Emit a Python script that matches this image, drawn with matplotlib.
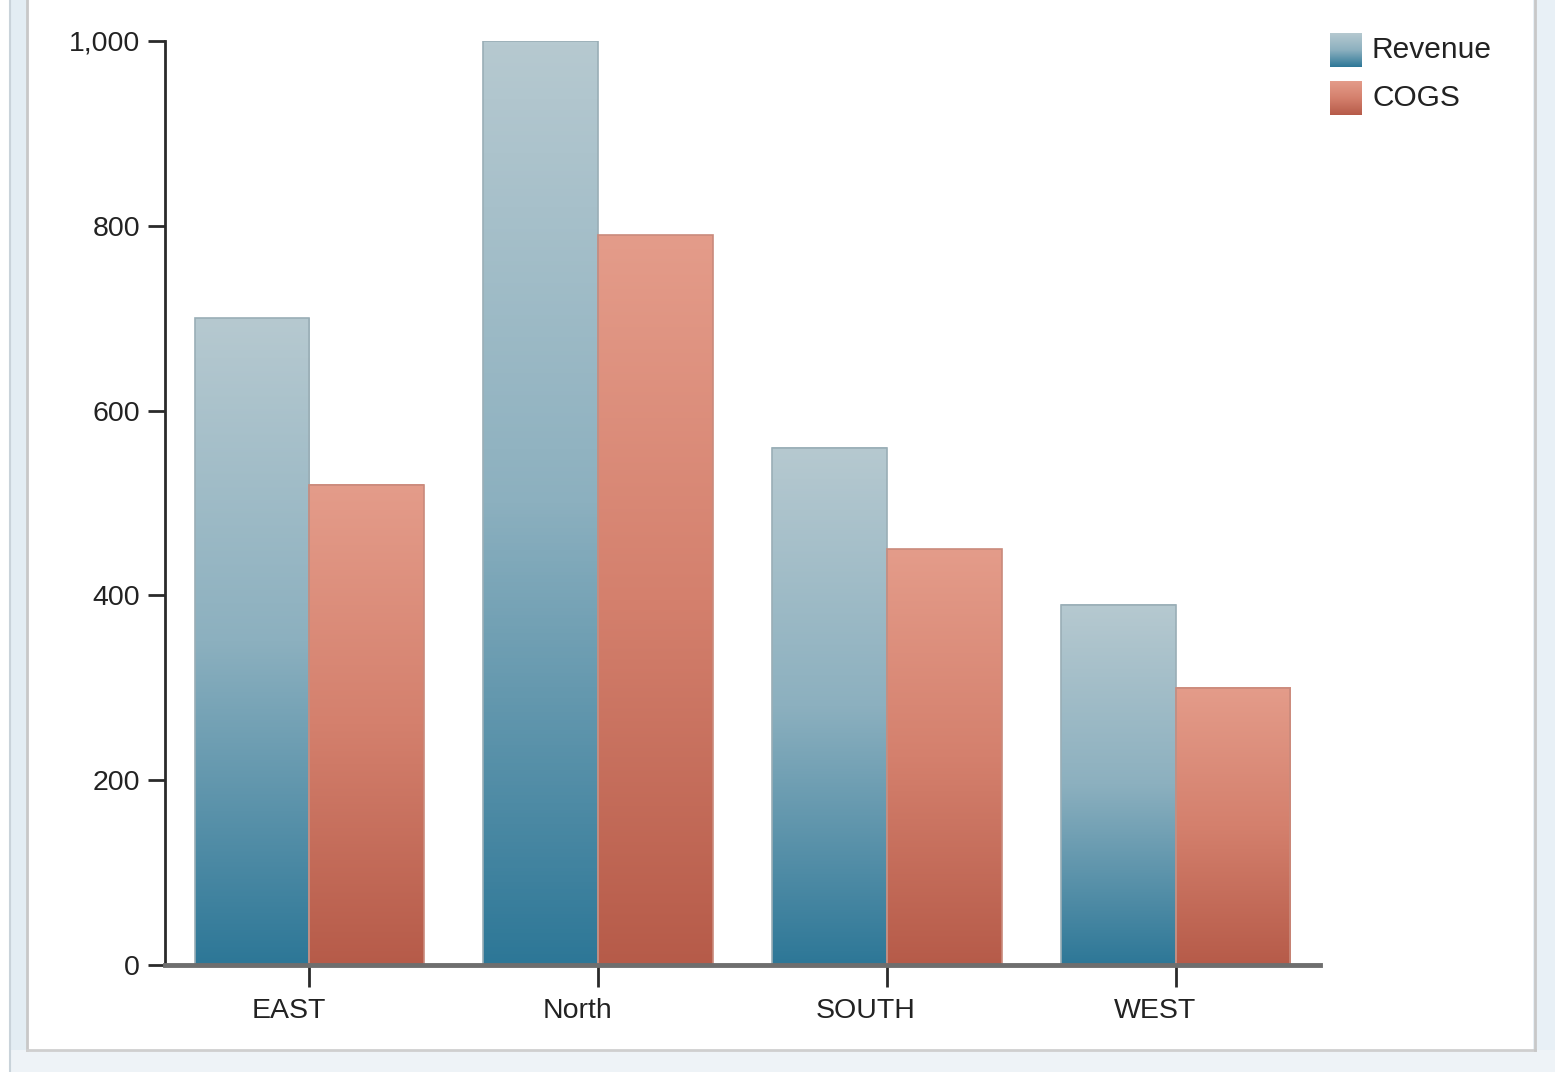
import numpy as np
import matplotlib.pyplot as plt
import matplotlib.transforms as mtransforms
from matplotlib.patches import Rectangle
from matplotlib.colors import LinearSegmentedColormap

regions = ["EAST", "North", "SOUTH", "WEST"]
series = ["Revenue", "COGS"]
revenue = [700, 1000, 560, 390]
cogs = [520, 790, 450, 300]
yticks = [0, 200, 400, 600, 800, 1000]
ytick_labels = ["0", "200", "400", "600", "800", "1,000"]

plt.rcParams['font.family'] = ['Liberation Sans', 'DejaVu Sans']

# gradient colours, top -> bottom
grad = {
    "Revenue": ["#b6c9d0", "#8cb0bf", "#2d7797"],
    "COGS": ["#e49c8a", "#d4806d", "#b65b49"],
}
edge = {"Revenue": "#9aaeb6", "COGS": "#c98a7c"}

fig = plt.figure(figsize=(15.57, 10.72), dpi=100)
fig.patch.set_facecolor("white")

# panel frame (screenshot window border)
W, H = 1557, 1072
def fx(px):
    return px / W
def fy(py):
    return 1 - py / H
fig.patches.append(Rectangle((fx(9), 0), fx(19), 1, transform=fig.transFigure,
                             facecolor="#e3edf3", edgecolor="none", zorder=0))
fig.patches.append(Rectangle((fx(1533), 0), fx(22), 1, transform=fig.transFigure,
                             facecolor="#e8f0f6", edgecolor="none", zorder=0))
fig.patches.append(Rectangle((fx(9), 0), fx(1546), fy(1050), transform=fig.transFigure,
                             facecolor="#eef3f7", edgecolor="none", zorder=0))
fig.lines.append(plt.Line2D([fx(27), fx(27)], [fy(1050), 1], transform=fig.transFigure,
                            color="#c8c8c8", lw=2))
fig.lines.append(plt.Line2D([fx(27), fx(1535)], [fy(1050), fy(1050)], transform=fig.transFigure,
                            color="#cfcfcf", lw=2))
fig.lines.append(plt.Line2D([fx(1535), fx(1535)], [fy(1050), 1], transform=fig.transFigure,
                            color="#c8c8c8", lw=2))
fig.lines.append(plt.Line2D([fx(10), fx(10)], [0, 1], transform=fig.transFigure,
                            color="#c9d3da", lw=1.5))

ax = fig.add_axes([fx(165), fy(965), fx(1320) - fx(165), fy(41) - fy(965)])

width = 0.397
x = np.arange(len(regions))
grad_img = np.linspace(1, 0, 256).reshape(-1, 1)

for name, vals, off in [("Revenue", revenue, -width / 2), ("COGS", cogs, width / 2)]:
    cmap = LinearSegmentedColormap.from_list(name, grad[name][::-1])
    bars = ax.bar(x + off, vals, width, color="none", edgecolor=edge[name], lw=1.2, zorder=3)
    for b in bars:
        x0, y0 = b.get_x(), b.get_y()
        ax.imshow(grad_img, cmap=cmap, aspect="auto", zorder=2,
                  extent=[x0, x0 + b.get_width(), y0, y0 + b.get_height()])

ax.set_xlim(-0.5, 3.5)
ax.set_ylim(0, 1000)

for s in ["top", "right"]:
    ax.spines[s].set_visible(False)
ax.spines["left"].set_color("#2a2a2a")
ax.spines["left"].set_linewidth(2)
ax.spines["bottom"].set_color("#6e6e6e")
ax.spines["bottom"].set_linewidth(3.5)
ax.spines["bottom"].set_zorder(4)

ax.set_yticks(yticks)
ax.set_yticklabels(ytick_labels)
ax.set_xticks(x)
ax.set_xticklabels(regions)
ax.tick_params(axis="y", length=12, width=2, color="#2a2a2a", labelsize=20.5,
               labelcolor="#222222", pad=6)
ax.tick_params(axis="x", length=16, width=2, color="#2a2a2a", labelsize=20.5,
               labelcolor="#222222", pad=8)

# the category labels sit a little left of their ticks in the original
shift = mtransforms.ScaledTranslation(-0.21, 0, fig.dpi_scale_trans)
for lab in ax.get_xticklabels():
    lab.set_transform(lab.get_transform() + shift)

# legend outside the plot area on the right
leg_y = [50, 98]
for name, py in zip(series, leg_y):
    cmap = LinearSegmentedColormap.from_list(name + "_leg", grad[name][::-1])
    lax = fig.add_axes([fx(1330), fy(py + 17), fx(32), 34 / H])
    lax.imshow(grad_img, cmap=cmap, aspect="auto")
    lax.axis("off")
    fig.text(fx(1372), fy(py), name, fontsize=21.5, color="#222222", va="center", ha="left")

fig.savefig("out.png", dpi=100, facecolor="white")
